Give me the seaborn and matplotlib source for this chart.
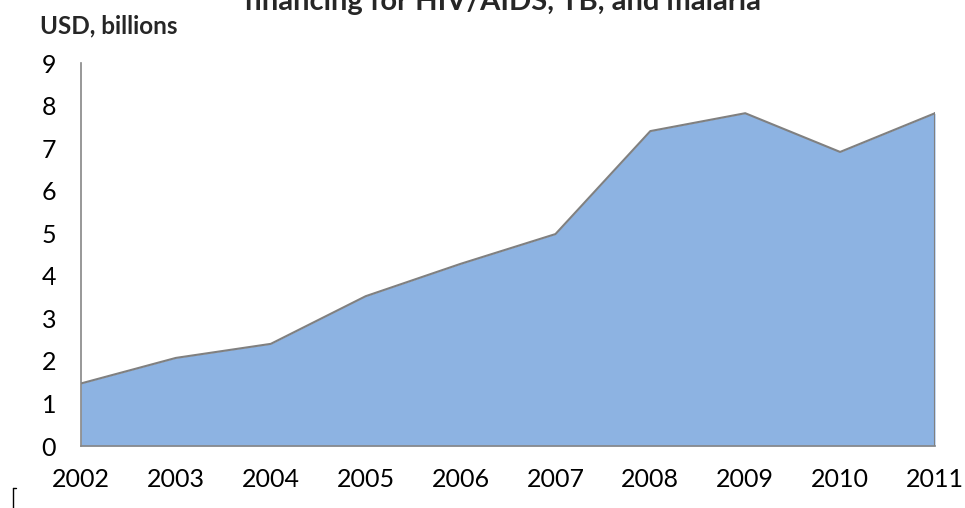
import matplotlib
matplotlib.use("Agg")
import matplotlib.pyplot as plt
import seaborn as sns
import pandas as pd
from matplotlib.lines import Line2D

years = [2002, 2003, 2004, 2005, 2006, 2007, 2008, 2009, 2010, 2011]
funding = [1.47, 2.07, 2.40, 3.52, 4.28, 4.98, 7.40, 7.82, 6.91, 7.82]
yticks = [0, 1, 2, 3, 4, 5, 6, 7, 8, 9]

title = "financing for HIV/AIDS, TB, and malaria"
ylabel = "USD, billions"

sns.set_style("white")
plt.rcParams['font.family'] = ['Lato', 'DejaVu Sans']

df = pd.DataFrame({"year": years, "value": funding})

fig = plt.figure(figsize=(9.65, 5.08), dpi=100)
ax = fig.add_axes([81/965, 1-446/508, (935-81)/965, (446-63)/508])

fill_color = "#8DB3E2"
edge_color = "#808080"
ax.fill_between(df["year"], 0, df["value"], color=fill_color, linewidth=0, zorder=1)
sns.lineplot(data=df, x="year", y="value", ax=ax, color=edge_color, linewidth=1.5, zorder=2)
ax.plot([years[-1], years[-1]], [0, funding[-1]], color=edge_color, linewidth=1.5, zorder=2)

ax.set_xlim(years[0], years[-1])
ax.set_ylim(0, 9)
ax.set_xticks(years)
ax.set_xticklabels([str(y) for y in years])
ax.set_yticks(yticks)
ax.set_xlabel("")
ax.set_ylabel("")

for s in ["top", "right"]:
    ax.spines[s].set_visible(False)
for s in ["left", "bottom"]:
    ax.spines[s].set_color("#868686")
    ax.spines[s].set_linewidth(1.2)
    ax.spines[s].set_zorder(3)

ax.tick_params(axis="both", which="both", length=6, width=1.2, color="#868686",
               labelsize=18, labelcolor="black", direction="out")
ax.tick_params(axis="x", pad=10)
ax.tick_params(axis="y", pad=12)

fig.text(502/965, 1-10/508, title, ha="center", va="baseline",
         fontsize=21, fontweight="bold")
fig.text(40/965, 1-26/508, ylabel, ha="left", va="center",
         fontsize=17.5, fontweight="bold")

# small bracket mark bottom-left
fig.add_artist(Line2D([13/965, 13/965], [0, 1-488/508], color="black", linewidth=1))
fig.add_artist(Line2D([13/965, 16/965], [1-488/508, 1-488/508], color="black", linewidth=1))

fig.savefig("out.png", dpi=100)
